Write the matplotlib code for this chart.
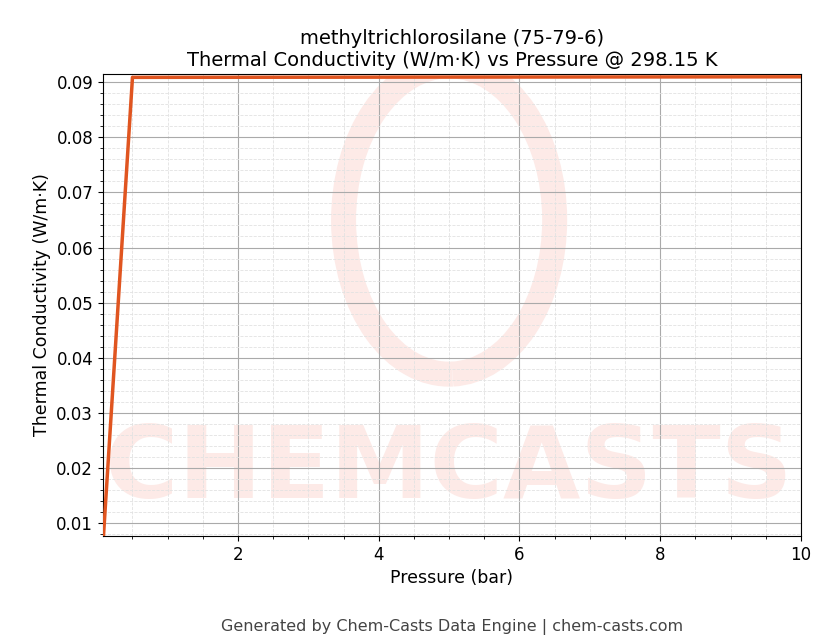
import matplotlib.pyplot as plt
from matplotlib.ticker import MultipleLocator
from matplotlib.patches import Arc

pressure = [0.08, 0.5, 10.0]
conductivity = [0.0060, 0.0909, 0.0910]

fig, ax = plt.subplots(figsize=(8.3, 6.44), dpi=100)
fig.subplots_adjust(left=0.124, right=0.965, top=0.885, bottom=0.168)

# faint watermark
wm = ax.text(5.0, 0.0195, "CHEMCASTS", ha='center', va='center', fontsize=72, fontweight='bold',
             color='#fdeae7', zorder=0, clip_on=True)
ax.add_patch(Arc((5.0, 0.065), 3.0, 0.056, theta1=-30, theta2=40, lw=18,
                 color='#fdeae7', zorder=0, clip_on=True))
ax.add_patch(Arc((5.0, 0.065), 3.0, 0.056, theta1=60, theta2=330, lw=18,
                 color='#fdeae7', zorder=0, clip_on=True))

ax.plot(pressure, conductivity, color='#e05520', lw=2.5, zorder=3)

ax.set_xlim(0.08, 10)
ax.set_ylim(0.00764, 0.0915)
ax.xaxis.set_major_locator(MultipleLocator(2))
ax.xaxis.set_minor_locator(MultipleLocator(0.5))
ax.yaxis.set_major_locator(MultipleLocator(0.01))
ax.yaxis.set_minor_locator(MultipleLocator(0.002))
ax.grid(which='major', color='#aaaaaa', lw=0.8)
ax.grid(which='minor', color='#e2e2e2', lw=0.6, ls='--')
ax.tick_params(labelsize=12)

ax.set_title("methyltrichlorosilane (75-79-6)\nThermal Conductivity (W/m·K) vs Pressure @ 298.15 K",
             fontsize=14)
ax.set_xlabel("Pressure (bar)", fontsize=12.5)
ax.set_ylabel("Thermal Conductivity (W/m·K)", fontsize=12.5)

fig.text(0.545, 0.02, "Generated by Chem-Casts Data Engine | chem-casts.com",
         ha='center', fontsize=11.5, color='#444444')

fig.savefig("out.png", dpi=100)
